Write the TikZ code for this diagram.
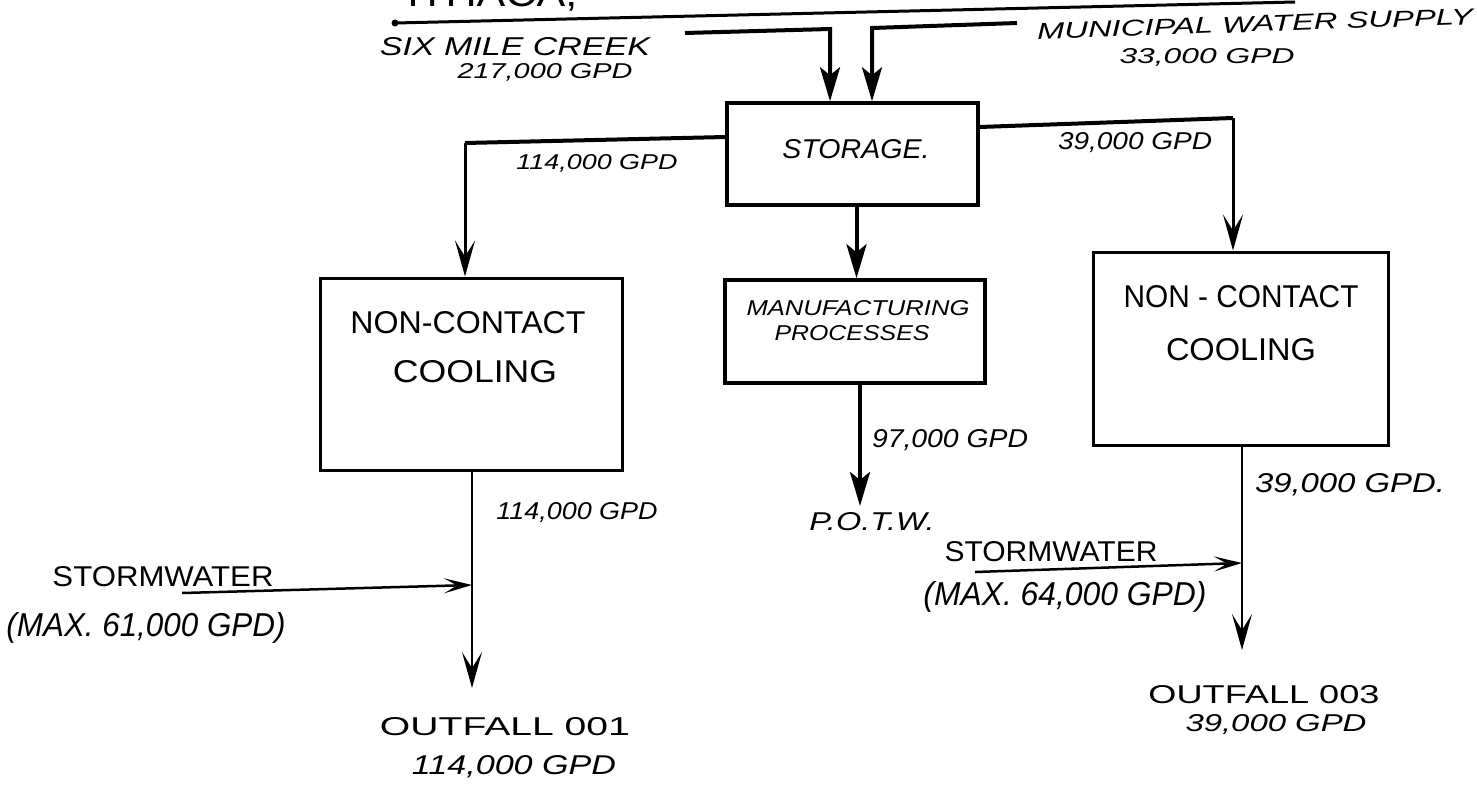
\documentclass[tikz,border=0pt]{standalone}
\usepackage{fontspec}
\setmainfont{Liberation Sans}
\usetikzlibrary{arrows.meta}
\newcommand\hw[3]{\resizebox{#1pt}{#2pt}{#3}}
\newcommand\hwi[3]{\resizebox{#1pt}{#2pt}{\itshape #3}}
\tikzset{
  box/.style={draw, line width=3.5pt, inner sep=0pt},
  heavy/.style={line width=4pt},
  medium/.style={line width=3pt},
  light/.style={line width=2pt},
  lbl/.style={inner sep=0pt},
  solidhead/.style={-{Stealth[length=34pt,width=20pt,inset=8pt]}},
  veehead/.style={-{Stealth[length=36pt,width=20pt,inset=16pt]}},
  sidehead/.style={-{Stealth[length=28pt,width=15pt,inset=13pt]}},
}
\begin{document}
\begin{tikzpicture}[x=1pt,y=-1pt]
\useasboundingbox (0,0) rectangle (1477,785);
\fill[white] (0,0) rectangle (1477,785);
\begin{scope}
\clip (0,0) rectangle (1477,785);
% clipped title
\node[lbl, anchor=south west] (title) at (407,11) {\hw{170}{26}{ITHACA,}};
\coordinate (ul0) at (395,23);
\coordinate (ul1) at (1295,2);
\draw[medium] (ul0) -- (ul1);
\fill (ul0) circle (3.5pt);
\end{scope}

% boxes
\node[box, minimum width=251pt, minimum height=102pt] (storage) at (852.5,154) {};
\node[box, minimum width=260pt, minimum height=103pt] (mfg) at (855,331.5) {};
\node[box, line width=3pt, minimum width=302pt, minimum height=192pt] (ncl) at (471,374) {};
\node[box, line width=3pt, minimum width=295pt, minimum height=193pt] (ncr) at (1240.5,348.5) {};

% box texts
\node[lbl] (tstorage) at (856,149) {\hwi{147}{19}{STORAGE.}};
\node[lbl] (tmfg1) at (858,308) {\hwi{223}{15}{MANUFACTURING}};
\node[lbl] (tmfg2) at (852,333) {\hwi{155}{15}{PROCESSES}};
\node[lbl] (tncl1) at (468,323) {\hw{235}{22}{NON-CONTACT}};
\node[lbl] (tncl2) at (475,372) {\hw{164}{22}{COOLING}};
\node[lbl] (tncr1) at (1241,297) {\hw{235}{22}{NON - CONTACT}};
\node[lbl] (tncr2) at (1241,350) {\hw{150}{22}{COOLING}};

% inputs
\node[lbl] (six) at (515,47) {\hwi{270}{18}{SIX MILE CREEK}};
\node[lbl] (sixq) at (545,72) {\hwi{175}{15}{217,000 GPD}};
\node[lbl, rotate=2] (muni) at (1255,24) {\hwi{436}{16}{MUNICIPAL WATER SUPPLY}};
\node[lbl] (muniq) at (1207,57) {\hwi{175}{15}{33,000 GPD}};
\coordinate (six0) at (685,33);
\coordinate (six1) at (830,29);
\coordinate (mun0) at (1017,23);
\coordinate (mun1) at (872,28);
\draw[heavy, solidhead] (six0) -- (six1) -- (six1 |- storage.north);
\draw[heavy, solidhead] (mun0) -- (mun1) -- (mun1 |- storage.north);

% branches
\coordinate (bl) at (465,143);
\coordinate (br) at (1233,118);
\draw[heavy] ([yshift=17pt]storage.west) -- (bl);
\draw[medium, veehead] (bl) -- (bl |- ncl.north);
\draw[heavy] ([yshift=27pt]storage.east) -- (br);
\draw[medium, veehead] (br) -- (br |- ncr.north);
\node[lbl] (q114a) at (597,163) {\hwi{161}{15}{114,000 GPD}};
\node[lbl] (q39a) at (1135,143) {\hwi{154}{17}{39,000 GPD}};

% storage to manufacturing
\draw[heavy, solidhead] (storage.south) ++(4,0) coordinate (sd) -- (sd |- mfg.north);

% manufacturing to POTW
\node[lbl] (potw) at (872,522) {\hwi{125}{18}{P.O.T.W.}};
\coordinate (potwtip) at (860,506);
\draw[heavy, solidhead] (mfg.south -| potwtip) -- (potwtip);
\node[lbl] (q97) at (950,440) {\hwi{156}{18}{97,000 GPD}};

% left outflow
\coordinate (out1) at (472,688);
\draw[light, veehead] (ncl.south -| out1) -- (out1);
\node[lbl] (q114b) at (577,513) {\hwi{161}{17}{114,000 GPD}};
\node[lbl] (sw1) at (163,577) {\hw{221}{20}{STORMWATER}};
\node[lbl] (sw1q) at (146,628) {\hwi{279}{24}{(MAX. 61,000 GPD)}};
\coordinate (sw1s) at (182,593);
\coordinate (sw1e) at (472,585);
\draw[line width=2.5pt, sidehead] (sw1s) -- (sw1e);
\node[lbl] (of1) at (505,727) {\hw{250}{18}{OUTFALL 001}};
\node[lbl] (of1q) at (514,767) {\hwi{204}{19}{114,000 GPD}};

% right outflow
\coordinate (out3) at (1242,650);
\draw[light, veehead] (ncr.south -| out3) -- (out3);
\node[lbl] (q39b) at (1350,485) {\hwi{190}{19}{39,000 GPD.}};
\node[lbl] (sw3) at (1051,552) {\hw{213}{20}{STORMWATER}};
\node[lbl] (sw3q) at (1065,597) {\hwi{283}{24}{(MAX. 64,000 GPD)}};
\coordinate (sw3s) at (975,572);
\coordinate (sw3e) at (1242,563);
\draw[line width=2.5pt, sidehead] (sw3s) -- (sw3e);
\node[lbl] (of3) at (1264,695) {\hw{231}{18}{OUTFALL 003}};
\node[lbl] (of3q) at (1276,725) {\hwi{181}{17}{39,000 GPD}};
\end{tikzpicture}
\end{document}
